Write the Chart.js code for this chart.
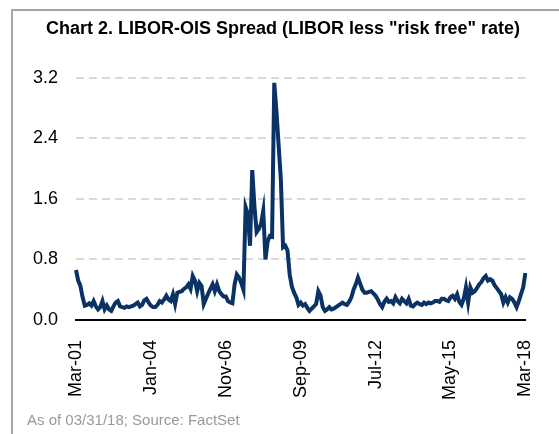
<!DOCTYPE html>
<html>
<head>
<meta charset="utf-8">
<script src="https://cdn.jsdelivr.net/npm/chart.js@4.4.1/dist/chart.umd.min.js"></script>
<style>
  html, body { margin:0; padding:0; background:#fff; }
  #wrap { position:relative; width:559px; height:434px; overflow:hidden; }
  #frame { position:absolute; left:11px; top:9px; width:700px; height:600px;
           border-left:2px solid #a6a6a6; border-top:2px solid #a6a6a6; }
  #chart { position:absolute; left:0; top:0; }
</style>
</head>
<body>
<div id="wrap">
  <div id="frame"></div>
  <canvas id="chart" width="559" height="434"></canvas>
</div>
<script>
// monthly LIBOR-OIS spread (%), Mar-01 .. Mar-18
const spread = [
  0.66,0.52,0.45,0.30,0.19,0.20,0.22,0.19,0.25,0.18,
  0.14,0.17,0.25,0.14,0.19,0.14,0.12,0.18,0.23,0.25,
  0.18,0.17,0.16,0.18,0.17,0.18,0.19,0.21,0.23,0.18,
  0.20,0.26,0.28,0.23,0.19,0.17,0.17,0.20,0.25,0.23,
  0.27,0.32,0.27,0.25,0.34,0.21,0.36,0.37,0.38,0.41,
  0.43,0.47,0.41,0.58,0.52,0.38,0.49,0.45,0.21,0.28,
  0.35,0.41,0.47,0.38,0.47,0.38,0.34,0.31,0.31,0.25,
  0.23,0.22,0.47,0.60,0.56,0.49,0.40,1.49,1.40,0.98,
  1.98,1.50,1.16,1.20,1.27,1.44,0.80,1.04,1.11,1.10,
  3.13,2.75,2.30,1.85,0.96,0.98,0.92,0.60,0.44,0.36,
  0.30,0.20,0.23,0.19,0.21,0.16,0.12,0.15,0.18,0.21,
  0.38,0.32,0.17,0.12,0.14,0.17,0.14,0.15,0.17,0.19,
  0.21,0.23,0.21,0.20,0.24,0.30,0.40,0.47,0.56,0.48,
  0.40,0.36,0.36,0.37,0.38,0.35,0.32,0.27,0.21,0.17,
  0.24,0.28,0.24,0.25,0.22,0.30,0.25,0.22,0.28,0.25,
  0.22,0.28,0.19,0.18,0.21,0.23,0.21,0.20,0.23,0.21,
  0.23,0.22,0.23,0.25,0.25,0.24,0.28,0.28,0.26,0.25,
  0.30,0.32,0.28,0.34,0.24,0.20,0.28,0.43,0.23,0.43,
  0.36,0.38,0.42,0.47,0.50,0.55,0.58,0.52,0.54,0.52,
  0.46,0.42,0.38,0.34,0.23,0.30,0.23,0.30,0.28,0.23,
  0.17,0.25,0.34,0.43,0.62
];
const tickLabels = ['Mar-01','Jan-04','Nov-06','Sep-09','Jul-12','May-15','Mar-18'];
const yTicks = [0, 0.8, 1.6, 2.4, 3.2];
const monthNames = ['Jan','Feb','Mar','Apr','May','Jun','Jul','Aug','Sep','Oct','Nov','Dec'];

// category labels: one per month starting Mar-01
const labels = spread.map((_, i) => {
  const m = (2 + i) % 12, y = 2001 + Math.floor((2 + i) / 12);
  return monthNames[m] + '-' + String(y % 100).padStart(2, '0');
});

const FONT = 'Liberation Sans, Arial, sans-serif';

new Chart(document.getElementById('chart'), {
  type: 'line',
  data: {
    labels,
    datasets: [{
      data: spread,
      borderColor: '#0b3265',
      borderWidth: 4,
      pointRadius: 0,
      tension: 0,
      fill: false
    }]
  },
  options: {
    animation: false, responsive: false,
    layout: { padding: { left: 27, right: 20, top: 0, bottom: 4 } },
    plugins: {
      legend: { display: false },
      tooltip: { enabled: false },
      title: {
        display: true,
        text: 'Chart 2. LIBOR-OIS Spread (LIBOR less "risk free" rate)',
        color: '#000',
        font: { family: FONT, size: 18, weight: 'bold' },
        padding: { top: 18, bottom: 38 }
      },
      subtitle: {
        display: true, position: 'bottom', align: 'start',
        text: 'As of 03/31/18; Source: FactSet',
        color: '#999',
        font: { family: FONT, size: 15 },
        padding: { top: 0, bottom: 0 }
      }
    },
    scales: {
      x: {
        offset: false,
        grid: { display: false },
        border: { display: true, color: '#000', width: 2 },
        ticks: {
          autoSkip: false, maxRotation: 90, minRotation: 90,
          color: '#000', padding: 12,
          font: { family: FONT, size: 18 },
          callback(v) {
            const l = this.getLabelForValue(v);
            return tickLabels.includes(l) ? l : '';
          }
        }
      },
      y: {
        min: 0, max: 3.2,
        afterBuildTicks: (s) => { s.ticks = yTicks.map(v => ({ value: v })); },
        afterFit: (s) => { s.width = 49; },
        border: { display: false, dash: [8, 5] },
        grid: {
          drawTicks: false, lineWidth: 2,
          color: (c) => c.tick && c.tick.value === 0 ? 'rgba(0,0,0,0)' : '#d9d9d9'
        },
        ticks: {
          color: '#000', padding: 18,
          font: { family: FONT, size: 18 },
          callback: (v) => Number(v).toFixed(1)
        }
      }
    }
  }
});
</script>
</body>
</html>
